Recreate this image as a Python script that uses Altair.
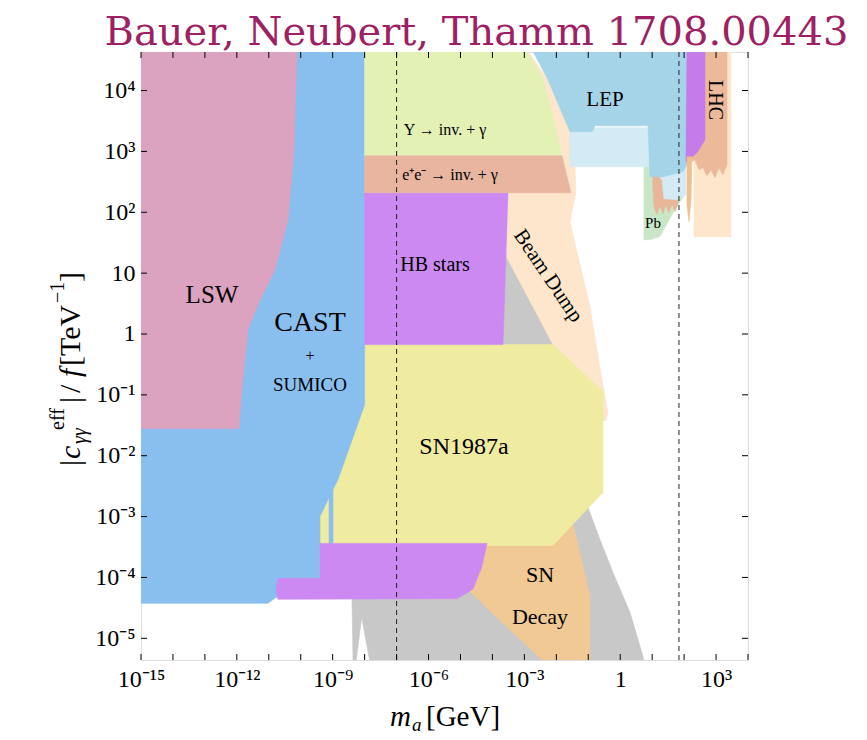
import json
import altair as alt
import pandas as pd

# ---------------- data ----------------
X_DOMAIN = [1e-15, 1e4]          # m_a [GeV]
Y_DOMAIN = [4.4e-6, 4.3e4]       # |c_gg^eff|/f [TeV^-1]

X_TICKS = [1e-15, 1e-14, 1e-13, 1e-12, 1e-11, 1e-10, 1e-9, 1e-8, 1e-7, 1e-6,
           1e-5, 1e-4, 1e-3, 1e-2, 1e-1, 1.0, 1e1, 1e2, 1e3, 1e4]
X_LABELS = ["10⁻¹⁵", "", "", "10⁻¹²", "", "", "10⁻⁹", "", "", "10⁻⁶",
            "", "", "10⁻³", "", "", "1", "", "", "10³", ""]
Y_TICKS = [1e-5, 1e-4, 1e-3, 1e-2, 1e-1, 1.0, 1e1, 1e2, 1e3, 1e4]
Y_LABELS = ["10⁻⁵", "10⁻⁴", "10⁻³", "10⁻²", "10⁻¹", "1", "10", "10²", "10³", "10⁴"]

GREY_M = [2.85e-4, 7.85e-3, 0.0384, 0.098, 0.232, 0.593, 2.02, 5.15, 5.53, 1.47e-8,
          8.09e-9, 5.36e-9, 4.33e-9, 4.02e-9, 4.02e-9, 4.07e-5]
GREY_C = [24.3, 0.67, 0.0394, 1.41e-3, 4.2e-4, 1.21e-4, 2.67e-5, 5.06e-6, 4.0e-6, 4.0e-6,
          2.21e-5, 4.0e-6, 4.0e-6, 4.37e-5, 1.98e-4, 0.0837]

BEAM_M = [1.72e-4, 1.3e-3, 5.48e-3, 0.0267, 0.0384, 0.0412, 0.0267, 0.113, 0.269, 0.414,
          0.358, 0.162, 7.85e-3, 2.85e-4, 2.47e-4]
BEAM_C = [4.4e4, 4.4e4, 1.5e4, 2.1e3, 560, 209, 70, 2.81, 0.178, 0.0512,
          0.0379, 0.0379, 0.67, 17.9, 209]

PEACH_R_M = [203, 2.92e3, 2.92e3, 203]
PEACH_R_C = [4.4e4, 4.4e4, 39.7, 39.7]

SND_M = [1.98e-5, 0.0332, 0.113, 0.113, 4.42e-3, 1.72e-4, 1.98e-5]
SND_C = [4.2e-4, 7.4e-4, 4.9e-5, 4.0e-6, 4.0e-6, 1.97e-5, 5.9e-5]

SN87_M = [3.48e-9, 7.85e-3, 0.288, 0.288, 7.85e-3, 1.95e-10, 1.95e-10]
SN87_C = [0.67, 0.67, 0.113, 2.49e-3, 3.36e-4, 3.36e-4, 4.07e-3]

CAST_M = [1e-16, 1.0e-8, 1.0e-8, 1.47e-9, 1.02e-9, 1.02e-9, 7.7e-10, 7.7e-10, 4.0e-10,
          4.0e-10, 1.68e-11, 9.4e-12, 1e-16]
CAST_C = [4.4e4, 4.4e4, 0.069, 4.07e-3, 2.79e-3, 3.36e-4, 3.36e-4, 2.06e-3, 1.0e-3,
          4.7e-5, 4.7e-5, 3.75e-5, 3.75e-5]

LSW_M = [1e-16, 7.64e-11, 6.15e-11, 3.99e-11, 1.56e-11, 4.59e-12, 2.23e-12, 1.67e-12,
         1.35e-12, 1.17e-12, 1e-16]
LSW_C = [4.4e4, 4.4e4, 1.06e3, 75.5, 11.4, 3.03, 1.18, 0.26, 0.0837, 0.028, 0.028]

PURPLE2_M = [1.68e-11, 1.94e-11, 4.01e-10, 4.01e-10, 6.75e-5, 4.71e-5, 2.46e-5, 7.76e-6, 1.94e-11]
PURPLE2_C = [6.37e-5, 9.66e-5, 9.66e-5, 3.62e-4, 3.62e-4, 1.52e-4, 6.37e-5, 4.48e-5, 4.37e-5]

HB_M = [1.0e-8, 3.07e-4, 2.14e-4, 1.0e-8]
HB_C = [209, 209, 0.67, 0.67]

UPS_M = [1.0e-8, 1.21e-3, 3.56e-3, 7.85e-3, 0.0150, 1.0e-8]
UPS_C = [4.4e4, 4.4e4, 1.68e4, 3.7e3, 847, 847]

EE_M = [1.0e-8, 0.0150, 0.0288, 1.0e-8]
EE_C = [847, 847, 209, 209]

PB_M = [5.53, 98.9, 98.9, 44.8, 17.5, 8.53, 5.53]
PB_C = [560, 560, 187, 98.3, 40.1, 35.4, 35.4]

SPIKE_M = [10.6, 64.3, 64.3, 51.8, 41.7, 33.6, 27.0, 21.8, 17.5, 14.2, 11.4, 10.6]
SPIKE_C = [560, 560, 144, 102, 138, 98.3, 133, 94.6, 128, 91.2, 123, 234]

LEPL_M = [0.0267, 114, 114, 59.7, 23.4, 20.3, 8.53, 0.0267]
LEPL_C = [2.44e3, 2.44e3, 194, 161, 167, 342, 560, 560]

LEP_M = [1.86e-3, 123, 123, 92, 21.8, 8.53, 7.39, 0.162, 0.131, 0.0267, 5.48e-3]
LEP_C = [4.4e4, 4.4e4, 603, 463, 383, 383, 2.63e3, 2.63e3, 2.1e3, 2.1e3, 1.5e4]

LHC_M = [253, 2.2e3, 2.2e3, 1.64e3, 1.23e3, 925, 692, 519, 389, 292, 219, 164, 152]
LHC_C = [4.4e4, 4.4e4, 603, 413, 538, 369, 499, 398, 538, 499, 728, 676, 1.06e3]

PURPLER_M = [123, 450, 450, 253, 152, 114]
PURPLER_C = [4.4e4, 4.4e4, 1.55e3, 949, 757, 676]

ORANGE_M = [123, 176, 164, 142, 123]
ORANGE_C = [816, 816, 161, 70, 133]

DASH_M = [1.0e-7, 69.0]

REGIONS = [
    ("grey", "#C8C8C8", GREY_M, GREY_C),
    ("beam dump", "#FDE6CB", BEAM_M, BEAM_C),
    ("peach right", "#FDE6CB", PEACH_R_M, PEACH_R_C),
    ("SN decay", "#F1C995", SND_M, SND_C),
    ("SN1987a", "#EFEBA1", SN87_M, SN87_C),
    ("CAST", "#88BFEE", CAST_M, CAST_C),
    ("LSW", "#DBA3C0", LSW_M, LSW_C),
    ("purple low", "#CC89F2", PURPLE2_M, PURPLE2_C),
    ("HB", "#CC89F2", HB_M, HB_C),
    ("Upsilon", "#E3F1B5", UPS_M, UPS_C),
    ("ee", "#E7B5A0", EE_M, EE_C),
    ("Pb", "#C9E6C6", PB_M, PB_C),
    ("spikes", "#E9B69A", SPIKE_M, SPIKE_C),
    ("LEP light", "#D4EBF6", LEPL_M, LEPL_C),
    ("LEP", "#A5D4E8", LEP_M, LEP_C),
    ("LHC", "#ECB99B", LHC_M, LHC_C),
    ("purple right", "#C47CE9", PURPLER_M, PURPLER_C),
    ("orange", "#EFC08D", ORANGE_M, ORANGE_C),
]

# ---------------- layout ----------------
W, H = 607, 608
SERIF = "Liberation Serif"

xscale = alt.Scale(type="log", domain=X_DOMAIN, nice=False)
yscale = alt.Scale(type="log", domain=Y_DOMAIN, nice=False)
xaxis = alt.Axis(values=X_TICKS,
                 labelExpr=json.dumps(X_LABELS, ensure_ascii=False) + "[round(log(datum.value)/LN10)+15]",
                 ticks=False, domain=False, grid=False, title=None, labelFont=SERIF,
                 labelFontSize=24, labelColor="black", labelPadding=7, labelOverlap=False,
                 labelFlush=False, labelBound=False)
yaxis = alt.Axis(values=Y_TICKS,
                 labelExpr=json.dumps(Y_LABELS, ensure_ascii=False) + "[round(log(datum.value)/LN10)+5]",
                 ticks=False, domain=False, grid=False, title=None, labelFont=SERIF,
                 labelFontSize=24, labelColor="black", labelPadding=6, labelOverlap=False,
                 labelFlush=False, labelBound=False)


def X(f="m"):
    return alt.X(f"{f}:Q", scale=xscale, axis=xaxis)


def Y(f="c"):
    return alt.Y(f"{f}:Q", scale=yscale, axis=yaxis)


layers = []
for name, color, ms, cs in REGIONS:
    df = pd.DataFrame({"m": ms, "c": cs, "i": list(range(len(ms))), "region": name})
    layers.append(
        alt.Chart(df).mark_line(interpolate="linear-closed", fill=color, stroke=color,
                                strokeWidth=0.6, clip=True)
        .encode(x=X(), y=Y(), order=alt.Order("i:Q"))
    )

dash_df = pd.DataFrame({"m": DASH_M})
layers.append(alt.Chart(dash_df).mark_rule(color="#222222", strokeWidth=1, strokeDash=[5, 4])
              .encode(x=X()))

xt = pd.DataFrame({"m": X_TICKS})
yt = pd.DataFrame({"c": Y_TICKS})
layers.append(alt.Chart(xt).mark_rule(color="black", strokeWidth=1)
              .encode(x=X(), y=alt.value(H), y2=alt.value(H - 6)))
layers.append(alt.Chart(xt).mark_rule(color="black", strokeWidth=1)
              .encode(x=X(), y=alt.value(0), y2=alt.value(6)))
layers.append(alt.Chart(yt).mark_rule(color="black", strokeWidth=1)
              .encode(y=Y(), x=alt.value(0), x2=alt.value(6)))
layers.append(alt.Chart(yt).mark_rule(color="black", strokeWidth=1)
              .encode(y=Y(), x=alt.value(W), x2=alt.value(W - 6)))

ONE = pd.DataFrame({"k": [0]})


def label(txt, x, y, size, angle=0, style="normal", align="center", baseline="middle",
          color="black", font=SERIF):
    return alt.Chart(ONE).mark_text(text=txt, fontSize=size, angle=angle, fontStyle=style,
                                    align=align, baseline=baseline, color=color,
                                    font=font).encode(x=alt.value(x), y=alt.value(y))


texts = [
    label("LSW", 71, 243, 25),
    label("CAST", 169, 271, 28),
    label("+", 169, 304, 16),
    label("SUMICO", 169, 333, 19),
    label("HB stars", 294, 213, 20),
    label("SN1987a", 323, 395, 24),
    label("SN", 399, 523, 22),
    label("Decay", 399, 565, 22),
    label("LEP", 464, 48, 21),
    label("Pb", 512, 171, 15),
    label("LHC", 574, 48, 20, angle=90),
    label("Υ → inv. + γ", 304, 78, 16),
    label("e⁺e⁻ → inv. + γ", 309, 123, 16),
    label("Beam Dump", 407, 224, 21, angle=56),
    # title
    label("Bauer, Neubert, Thamm 1708.00443", 335.5, -7, 40, baseline="alphabetic",
          color="#9E1F63", font="DejaVu Serif"),
    # x title
    label("m", 249, 674, 29, style="italic", align="left", baseline="alphabetic"),
    label("a", 271, 679, 19, style="italic", align="left", baseline="alphabetic"),
    label("[GeV]", 285, 674, 29, align="left", baseline="alphabetic"),
    # y title (rotated)
    label("|", -61, 414, 30, angle=270, align="left", baseline="alphabetic"),
    label("c", -61, 407, 30, angle=270, style="italic", align="left", baseline="alphabetic"),
    label("γγ", -55, 392, 20, angle=270, style="italic", align="left", baseline="alphabetic"),
    label("eff", -77, 378, 20, angle=270, align="left", baseline="alphabetic"),
    label("|", -61, 351, 30, angle=270, align="left", baseline="alphabetic"),
    label("/", -61, 341, 30, angle=270, align="left", baseline="alphabetic"),
    label("f", -61, 325, 30, angle=270, style="italic", align="left", baseline="alphabetic"),
    label("[TeV", -61, 314, 30, angle=270, align="left", baseline="alphabetic"),
    label("−1", -77, 251, 20, angle=270, align="left", baseline="alphabetic"),
    label("]", -61, 230, 30, angle=270, align="left", baseline="alphabetic"),
]

chart = alt.layer(*layers, *texts).properties(
    width=W, height=H,
    autosize=alt.AutoSizeParams(type="none"),
    padding={"left": 133, "top": 44, "right": 103, "bottom": 80},
).configure_view(stroke="black", strokeWidth=1.3).configure(background="white")

chart.save("out.html", embed_options={"renderer": "svg", "actions": False})
